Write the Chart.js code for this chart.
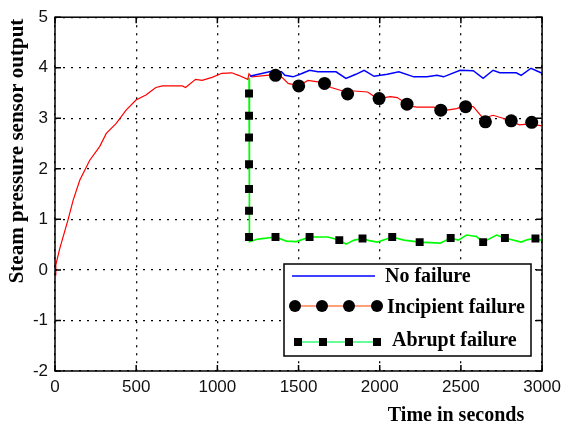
<!DOCTYPE html>
<html>
<head>
<meta charset="utf-8">
<script src="https://cdn.jsdelivr.net/npm/chart.js@4.4.0/dist/chart.umd.min.js"></script>
<style>
  html, body { margin: 0; padding: 0; background: #fff; }
  canvas { display: block; }
</style>
</head>
<body>
<canvas id="chart" width="567" height="423"></canvas>
<script>
// values
const xTicks = [0, 500, 1000, 1500, 2000, 2500, 3000];
const yTicks = [-2, -1, 0, 1, 2, 3, 4, 5];

// incipient failure (red), shared start-up curve from t=0
const redT = [0, 5, 30, 81, 112, 153, 214, 275, 316, 377, 438, 499, 560, 621, 662, 784, 804, 866, 906, 967, 1028, 1089, 1130, 1187, 1195, 1212, 1334, 1395, 1436, 1501, 1558, 1619, 1701, 1772, 1843, 1925, 1986, 2067, 2108, 2189, 2230, 2332, 2413, 2474, 2515, 2576, 2637, 2698, 2759, 2861, 2922, 3000];
const redV = [-0.1, 0.1, 0.43, 1.0, 1.38, 1.78, 2.17, 2.44, 2.70, 2.90, 3.16, 3.36, 3.46, 3.61, 3.64, 3.64, 3.61, 3.77, 3.75, 3.81, 3.89, 3.90, 3.85, 3.77, 3.88, 3.82, 3.86, 3.82, 3.69, 3.64, 3.75, 3.72, 3.61, 3.54, 3.54, 3.52, 3.39, 3.43, 3.41, 3.24, 3.22, 3.22, 3.16, 3.19, 3.24, 3.23, 3.0, 3.06, 3.0, 2.87, 2.89, 2.85];
const incipMarkT = [1358, 1501, 1660, 1802, 1996, 2168, 2376, 2529, 2651, 2810, 2936];
const incipMarkV = [3.85, 3.64, 3.69, 3.48, 3.39, 3.28, 3.16, 3.23, 2.93, 2.95, 2.92];

// no failure (blue)
const blueT = [1200, 1212, 1334, 1395, 1416, 1466, 1517, 1568, 1619, 1731, 1792, 1853, 1904, 1965, 2047, 2118, 2210, 2291, 2352, 2393, 2495, 2576, 2637, 2698, 2739, 2841, 2871, 2932, 3000];
const blueV = [3.83, 3.84, 3.93, 3.92, 3.85, 3.82, 3.88, 3.95, 3.92, 3.92, 3.79, 3.87, 3.95, 3.83, 3.87, 3.92, 3.82, 3.82, 3.85, 3.82, 3.95, 3.94, 3.79, 3.95, 3.90, 3.90, 3.85, 3.99, 3.89];

// abrupt failure (green)
const greenT = [1195, 1195, 1200, 1252, 1358, 1425, 1487, 1568, 1680, 1751, 1792, 1843, 1894, 1935, 1986, 2077, 2149, 2246, 2372, 2437, 2484, 2535, 2596, 2637, 2719, 2771, 2871, 2912, 2959, 3000];
const greenV = [3.8, 0.65, 0.56, 0.61, 0.65, 0.57, 0.56, 0.65, 0.65, 0.59, 0.51, 0.59, 0.62, 0.58, 0.55, 0.65, 0.59, 0.55, 0.53, 0.63, 0.59, 0.69, 0.66, 0.55, 0.69, 0.63, 0.55, 0.60, 0.62, 0.58];
const abruptMarkT = [1195, 1195, 1195, 1195, 1195, 1195, 1195, 1358, 1568, 1751, 1894, 2077, 2246, 2437, 2637, 2771, 2959];
const abruptMarkV = [3.49, 3.05, 2.62, 2.09, 1.60, 1.17, 0.65, 0.65, 0.65, 0.59, 0.62, 0.65, 0.55, 0.63, 0.55, 0.63, 0.62];

const pts = (t, v) => t.map((x, i) => ({x, y: v[i]}));

const serif = '"Liberation Serif", "Times New Roman", serif';

// frame, inward ticks, axis titles and the boxed legend
const decor = {
  id: 'decor',
  afterDatasetsDraw(chart) {
    const {ctx, chartArea: a, scales: {x, y}} = chart;
    ctx.save();
    ctx.strokeStyle = '#000';
    ctx.lineWidth = 1.5;
    ctx.strokeRect(a.left, a.top, a.right - a.left, a.bottom - a.top);
    ctx.beginPath();
    xTicks.forEach(v => {
      const px = x.getPixelForValue(v);
      ctx.moveTo(px, a.bottom); ctx.lineTo(px, a.bottom - 6);
      ctx.moveTo(px, a.top); ctx.lineTo(px, a.top + 6);
    });
    yTicks.forEach(v => {
      const py = y.getPixelForValue(v);
      ctx.moveTo(a.left, py); ctx.lineTo(a.left + 6, py);
      ctx.moveTo(a.right, py); ctx.lineTo(a.right - 6, py);
    });
    ctx.stroke();

    // axis titles
    ctx.fillStyle = '#000';
    ctx.font = 'bold 20px ' + serif;
    ctx.textAlign = 'center';
    ctx.textBaseline = 'alphabetic';
    ctx.fillText('Time in seconds', 456, 421);
    ctx.save();
    ctx.translate(18, 151);
    ctx.rotate(-Math.PI / 2);
    ctx.textBaseline = 'middle';
    ctx.font = 'bold 21px ' + serif;
    ctx.fillText('Steam pressure sensor output', 0, 0);
    ctx.restore();

    // legend
    ctx.fillStyle = '#fff';
    ctx.fillRect(284, 264, 247, 92);
    ctx.lineWidth = 1.5;
    ctx.strokeStyle = '#000';
    ctx.strokeRect(284, 264, 247, 92);

    ctx.lineWidth = 1.5;
    ctx.strokeStyle = '#0000ff';
    ctx.beginPath(); ctx.moveTo(292, 276); ctx.lineTo(375, 276); ctx.stroke();

    ctx.strokeStyle = '#ff7f50';
    ctx.beginPath(); ctx.moveTo(295, 306); ctx.lineTo(377, 306); ctx.stroke();
    ctx.fillStyle = '#000';
    [295, 322, 349, 377].forEach(cx => {
      ctx.beginPath(); ctx.arc(cx, 306, 6, 0, Math.PI * 2); ctx.fill();
    });

    ctx.strokeStyle = '#33ff77';
    ctx.beginPath(); ctx.moveTo(298, 342); ctx.lineTo(377, 342); ctx.stroke();
    [298, 323, 349, 377].forEach(cx => ctx.fillRect(cx - 4, 338, 8, 8));

    ctx.font = 'bold 20px ' + serif;
    ctx.textAlign = 'left';
    ctx.textBaseline = 'alphabetic';
    ctx.fillText('No failure', 385, 282);
    ctx.fillText('Incipient failure', 387, 313);
    ctx.fillText('Abrupt failure', 392, 346);
    ctx.restore();
  }
};

const tickFont = {family: '"Liberation Sans", Arial, sans-serif', size: 17};

new Chart(document.getElementById('chart'), {
  type: 'line',
  data: {
    datasets: [
      {data: pts(incipMarkT, incipMarkV), showLine: false, pointStyle: 'circle', pointRadius: 6.5, pointBackgroundColor: '#000', pointBorderWidth: 0},
      {data: pts(abruptMarkT, abruptMarkV), showLine: false, pointStyle: 'rect', pointRadius: 5.6, pointBackgroundColor: '#000', pointBorderWidth: 0},
      {data: pts(blueT, blueV), borderColor: '#0000ff', borderWidth: 1.5, pointRadius: 0},
      {data: pts(redT, redV), borderColor: '#ff0000', borderWidth: 1.2, pointRadius: 0},
      {data: pts(greenT, greenV), borderColor: '#00ff00', borderWidth: 1.6, pointRadius: 0}
    ]
  },
  options: {
    responsive: false,
    animation: false,
    layout: {padding: {top: 17, right: 21, left: 0, bottom: 0}},
    plugins: {legend: {display: false}, tooltip: {enabled: false}},
    scales: {
      x: {
        type: 'linear', min: 0, max: 3000,
        afterBuildTicks: s => { s.ticks = xTicks.map(value => ({value})); },
        afterFit: s => { s.height = 52; },
        ticks: {font: tickFont, color: '#111', padding: 6, maxRotation: 0, callback: v => String(v)},
        grid: {color: '#000', lineWidth: 1.3, drawTicks: false},
        border: {display: false, dash: [2, 6]}
      },
      y: {
        min: -2, max: 5,
        afterBuildTicks: s => { s.ticks = yTicks.map(value => ({value})); },
        afterFit: s => { s.width = 55; },
        ticks: {font: tickFont, color: '#111', padding: 7, callback: v => String(v)},
        grid: {color: '#000', lineWidth: 1.3, drawTicks: false},
        border: {display: false, dash: [2, 6]}
      }
    }
  },
  plugins: [decor]
});
</script>
</body>
</html>
